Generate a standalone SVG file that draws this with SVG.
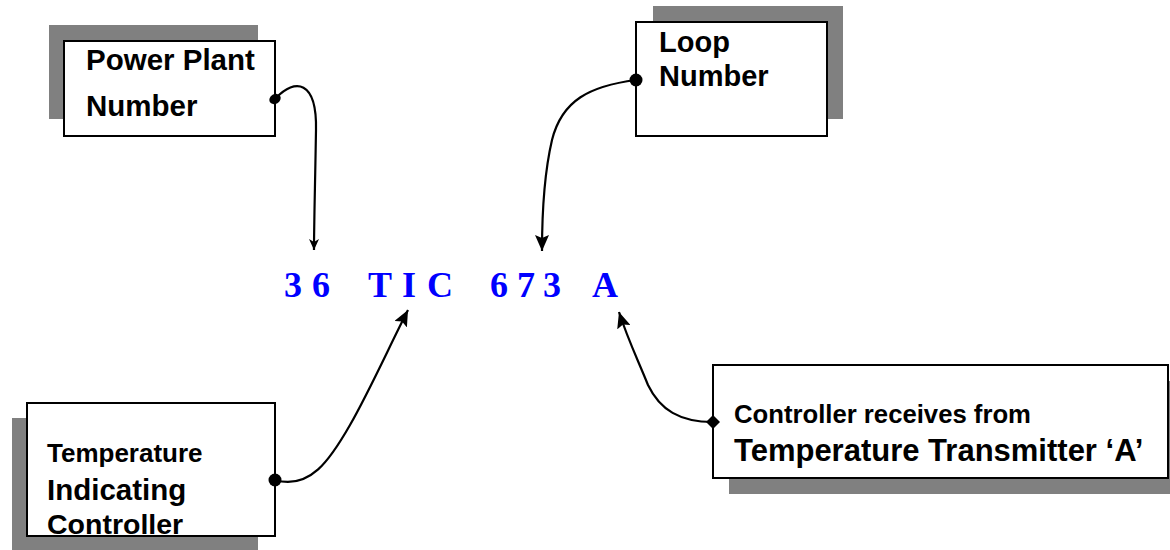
<svg xmlns="http://www.w3.org/2000/svg" width="1170" height="550" viewBox="0 0 1170 550">
<style>
.shadow{fill:#808080}
.box{fill:#fff;stroke:#000;stroke-width:2}
.lbl{font-family:"Liberation Sans",Arial,sans-serif;font-weight:bold;fill:#000}
.conn{fill:none;stroke:#000;stroke-width:2.2}
.code{font-family:"Liberation Serif","Times New Roman",serif;font-weight:bold;font-size:36px;fill:#0000ff}
</style>
<defs>
<marker id="arr" markerWidth="16" markerHeight="14" refX="16" refY="7" orient="auto" markerUnits="userSpaceOnUse" viewBox="0 0 16 14">
<path d="M0,0 L16,7 L0,14 L3,7 z" fill="#000"/>
</marker>
<marker id="arrs" markerWidth="11" markerHeight="10" refX="11" refY="5" orient="auto" markerUnits="userSpaceOnUse" viewBox="0 0 11 10">
<path d="M0,0 L11,5 L0,10 L3,5 z" fill="#000"/>
</marker>
</defs>
<rect width="1170" height="550" fill="#fff"/>

<g id="node-power-plant">
<rect class="shadow" x="49" y="25" width="209" height="94"/>
<rect class="box" x="64" y="41" width="211" height="95"/>
<text class="lbl" x="86" y="70" font-size="29.5">Power Plant</text>
<text class="lbl" x="86" y="116" font-size="29.5">Number</text>
</g>

<g id="node-loop-number">
<rect class="shadow" x="653" y="6" width="190" height="113"/>
<rect class="box" x="636" y="22" width="191" height="114"/>
<text class="lbl" x="659" y="52" font-size="29">Loop</text>
<text class="lbl" x="659" y="86" font-size="29">Number</text>
</g>

<g id="node-tic">
<rect class="shadow" x="12" y="418" width="246" height="132"/>
<rect class="box" x="27" y="403" width="248" height="133"/>
<text class="lbl" x="47" y="462" font-size="26">Temperature</text>
<text class="lbl" x="47" y="500" font-size="29.5">Indicating</text>
<text class="lbl" x="47" y="534" font-size="28.5">Controller</text>
</g>

<g id="node-transmitter">
<rect class="shadow" x="729" y="381" width="455" height="113"/>
<rect class="box" x="713" y="365" width="455" height="113"/>
<text class="lbl" x="734" y="423" font-size="25.7">Controller receives from</text>
<text class="lbl" x="734" y="461" font-size="31">Temperature Transmitter ‘A’</text>
</g>

<g id="tag-code">
<text class="code" x="284 312 340 368 402 427 460 490 517 543 570 592" y="297">36 TIC 673 A</text>
</g>

<g id="connectors">
<path class="conn" d="M276,98 C295,78 317,80 316,130 C315,190 314,225 314,250" marker-end="url(#arrs)"/>
<ellipse cx="275" cy="99" rx="6" ry="4.8" transform="rotate(-30 275 99)" fill="#000"/>
<path class="conn" d="M636,80 C590,86 562,100 552,140 C545,170 542,210 542,251" marker-end="url(#arr)"/>
<circle cx="636" cy="80" r="6.5" fill="#000"/>
<path class="conn" d="M275,480 C310,490 330,460 350,425 C370,390 390,345 408,310" marker-end="url(#arr)"/>
<circle cx="275" cy="480" r="6.5" fill="#000"/>
<path class="conn" d="M713,422 C680,422 660,410 648,385 C638,360 628,340 619,312" marker-end="url(#arr)"/>
<path d="M713,415 L720,422 L713,429 L706,422 z" fill="#000"/>
</g>
</svg>
